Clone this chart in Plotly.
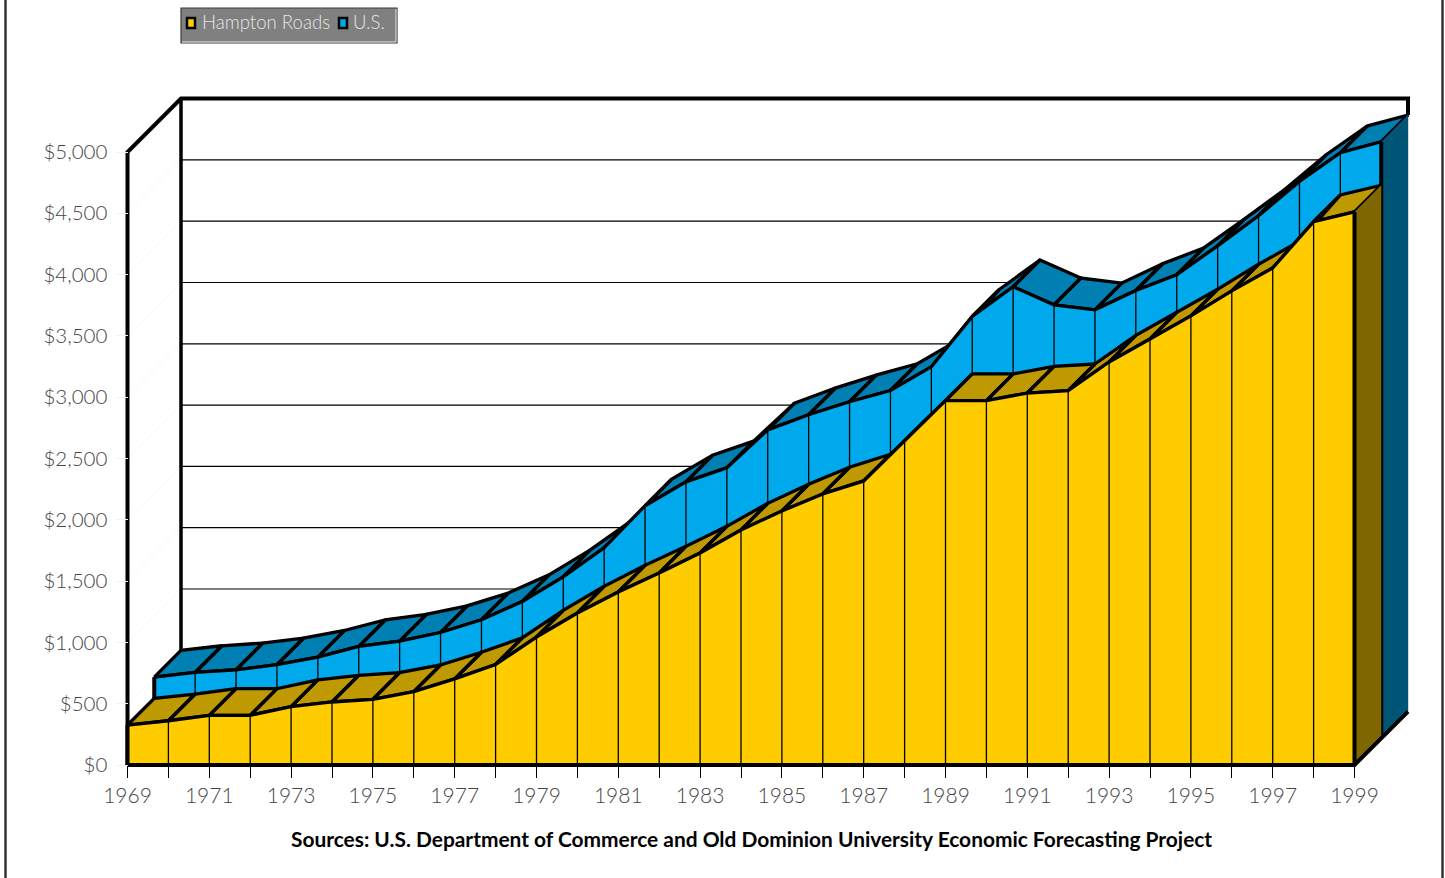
import plotly.graph_objects as go

years = list(range(1969, 2000))
hampton = [326, 361, 405, 405, 476, 514, 536, 598, 702, 820, 1044, 1240, 1411, 1566, 1729, 1917,
           2072, 2211, 2317, 2643, 2972, 2972, 3034, 3053, 3287, 3475, 3663, 3867, 4054, 4432, 4511]
us = [499, 537, 559, 600, 662, 749, 793, 863, 967, 1116, 1317, 1554, 1897, 2092, 2206, 2516,
      2639, 2745, 2837, 3030, 3441, 3683, 3536, 3495, 3653, 3781, 4017, 4262, 4542, 4776, 4866]
y_ticks = list(range(0, 5001, 500))
source_text = "Sources: U.S. Department of Commerce and Old Dominion University Economic Forecasting Project"

W, H = 1445, 878
X0_PX, X1_PX = 127.5, 1354.5
Y0_PX, Y1_PX = 765.0, 152.0
PX_YEAR = (X1_PX - X0_PX) / (years[-1] - years[0])
PX_USD = (Y0_PX - Y1_PX) / 5000
DX = 53.5 / PX_YEAR     # full depth, in years
DY = 53.4 / PX_USD      # full depth, in dollars
FONT = "Lato Light, Lato"
BLK = "#000000"


def proj(year, value, depth):
    return year + depth * DX, value + depth * DY


def poly(points):
    xs, ys = [], []
    for p in points + [points[0]]:
        xs.append(p[0]); ys.append(p[1])
    return xs, ys


def segs(list_of_pts):
    xs, ys = [], []
    for pts in list_of_pts:
        xs += [p[0] for p in pts] + [None]
        ys += [p[1] for p in pts] + [None]
    return xs, ys


fig = go.Figure()


def add_line(pts_list, width=3, color=BLK, name=""):
    xs, ys = segs(pts_list)
    fig.add_trace(go.Scatter(x=xs, y=ys, mode="lines", line=dict(color=color, width=width),
                             hoverinfo="skip", showlegend=False, name=name))


def add_fill(pts_list, fill, width=0, color=BLK, name=""):
    xs, ys = [], []
    for pts in pts_list:
        a, b = poly(pts)
        xs += a + [None]; ys += b + [None]
    fig.add_trace(go.Scatter(x=xs, y=ys, mode="lines", fill="toself", fillcolor=fill,
                             line=dict(color=color, width=width), hoverinfo="skip",
                             showlegend=False, name=name))


y0, y1 = years[0], years[-1]
# faint side-wall gridlines
add_line([[proj(y0, v, 0), proj(y0, v, 1)] for v in y_ticks[1:-1]], 1, "#f7f7f7", "side grid")
# back wall gridlines
add_line([[proj(y0, v, 1), proj(y1, v, 1)] for v in y_ticks[1:-1]], 1.2, BLK, "grid")
# walls
add_line([[proj(y0, 0, 0), proj(y0, 5000, 0), proj(y0, 5000, 1), proj(y1, 5000, 1), proj(y1, us[-1], 1)]], 4, BLK, "wall top")
add_line([[proj(y0, 5000, 1), proj(y0, us[0], 1)]], 3.5, BLK, "wall back left")
add_line([[proj(y1, us[-1], 1), proj(y1, 0, 1)]], 1, "#9fb8c4", "wall right")


def draw_series(vals, base, d0, d1, top_col, front_col, side_col, name):
    n = len(years)
    # top faces
    quads = [[proj(years[i], vals[i], d0), proj(years[i + 1], vals[i + 1], d0),
              proj(years[i + 1], vals[i + 1], d1), proj(years[i], vals[i], d1)] for i in range(n - 1)]
    add_fill(quads, top_col, 3.3, BLK, name + " top")
    # right side
    add_fill([[proj(y1, vals[-1], d0), proj(y1, vals[-1], d1), proj(y1, base, d1), proj(y1, base, d0)]],
             side_col, 0, BLK, name + " side")
    # front face
    front = [proj(years[i], vals[i], d0) for i in range(n)] + [proj(y1, base, d0), proj(y0, base, d0)]
    add_fill([front], front_col, 0, BLK, name)
    # thin drop lines at each year
    add_line([[proj(years[i], vals[i], d0), proj(years[i], base, d0)] for i in range(1, n - 1)], 1.3, BLK, name + " drop")
    # outline of front top edge, ends
    add_line([[proj(years[i], vals[i], d0) for i in range(n)]], 3.3, BLK, name + " edge")
    add_line([[proj(y0, vals[0], d0), proj(y0, base, d0)],
              [proj(y1, vals[-1], d0), proj(y1, base, d0)]], 4, BLK, name + " ends")


draw_series(us, 0, 0.5, 1.0, "#0080B2", "#00A9EC", "#005577", "U.S.")
draw_series(hampton, 0, 0.0, 0.5, "#BF9900", "#FFCC00", "#806600", "Hampton Roads")

# floor edges
add_line([[proj(y0, 0, 0), proj(y1, 0, 0), proj(y1, 0, 1)]], 4, BLK, "floor")

fig.update_layout(
    width=W, height=H, autosize=False,
    margin=dict(l=0, r=0, t=0, b=0),
    paper_bgcolor="white", plot_bgcolor="white",
    showlegend=False,
    xaxis=dict(
        range=[y0 - X0_PX / PX_YEAR, y0 + (W - X0_PX) / PX_YEAR], domain=[0, 1],
        anchor="free", position=(H - Y0_PX) / H, showgrid=False, zeroline=False, showline=False,
        tickmode="array", tickvals=years,
        ticktext=[str(y) if (y - y0) % 2 == 0 else "" for y in years],
        ticks="outside", ticklen=12, tickwidth=1.2, tickcolor=BLK,
        tickangle=0,
        tickfont=dict(family=FONT, size=21, color="#444444"),
    ),
    yaxis=dict(
        range=[-(H - Y0_PX) / PX_USD, Y0_PX / PX_USD], domain=[0, 1],
        anchor="free", position=X0_PX / W, showgrid=False, zeroline=False, showline=False,
        tickmode="array", tickvals=y_ticks, ticktext=[f"${v:,}" for v in y_ticks],
        ticks="outside", ticklen=13, tickwidth=1, tickcolor="#f2f2f2",
        ticklabelstandoff=3,
        tickfont=dict(family=FONT, size=20.5, color="#444444"),
    ),
)


def px(x): return x / W
def py(y): return 1 - y / H


def pshape(kind, x0, y0_, x1, y1_, **kw):
    fig.add_shape(type=kind, xref="paper", yref="paper", x0=px(x0), x1=px(x1), y0=py(y0_), y1=py(y1_), **kw)


# chart frame
pshape("line", 5.5, 0, 5.5, H, line=dict(color="#333333", width=2.5))
pshape("line", 1442.5, 0, 1442.5, H, line=dict(color="#333333", width=2.5))
# legend box
pshape("rect", 181, 8, 397, 43, fillcolor="#808080", line=dict(color="#3c3c3c", width=1.2))
pshape("line", 396, 9, 396, 42, line=dict(color="#e8e8e8", width=1))
pshape("line", 182, 42, 396, 42, line=dict(color="#e8e8e8", width=1))
pshape("rect", 187, 18, 195, 28, fillcolor="#FFCC00", line=dict(color=BLK, width=2.5))
pshape("rect", 339, 18, 347, 28, fillcolor="#00A9EC", line=dict(color=BLK, width=2.5))
for txt, x in (("Hampton Roads", 200), ("U.S.", 351)):
    fig.add_annotation(text=txt, xref="paper", yref="paper", x=px(x), y=py(22), xanchor="left", yanchor="middle",
                       showarrow=False, font=dict(family=FONT, size=18.6, color="#e6e6e6"))
fig.add_annotation(text=source_text, xref="paper", yref="paper", x=px(751), y=py(838), xanchor="center",
                   yanchor="middle", showarrow=False, font=dict(family="Lato", size=20.9, color=BLK, weight=700))

fig.write_html("out.html", config=dict(displayModeBar=False),
               post_script="document.body.style.margin='0';document.body.style.overflow='hidden';")
